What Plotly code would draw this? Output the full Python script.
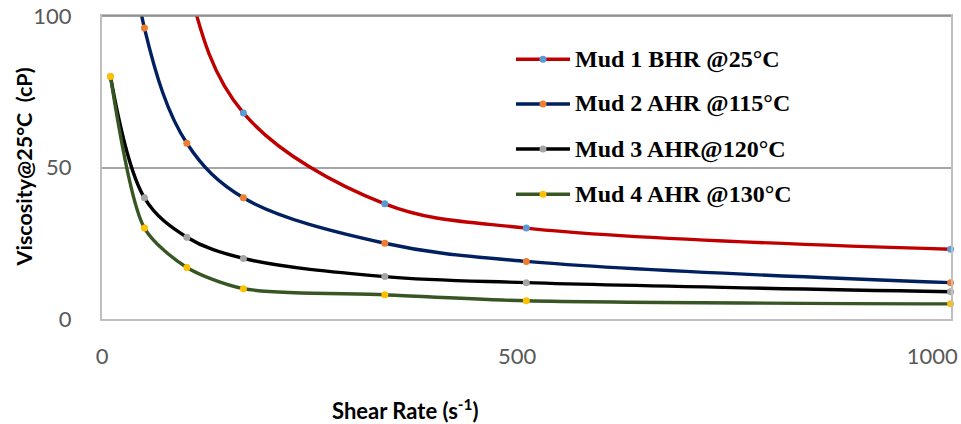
import plotly.graph_objects as go

# ---- data ----
shear_rate = [10.22, 51.1, 102.2, 170.3, 340.6, 511, 1022]
mud1 = [450, 240, 112, 68, 38, 30, 23]
mud2 = [190, 96, 58, 40, 25, 19, 12]
mud3 = [80, 40, 27, 20, 14, 12, 9]
mud4 = [80, 30, 17, 10, 8, 6, 5]
series = [mud1, mud2, mud3, mud4]
names = ["Mud 1 BHR @25°C", "Mud 2 AHR @115°C", "Mud 3 AHR@120°C", "Mud 4 AHR @130°C"]
line_colors = ["#C00000", "#002060", "#000000", "#375623"]
marker_colors = ["#5B9BD5", "#ED7D31", "#A5A5A5", "#FFC000"]
smooth = [1.0, 1.0, 1.0, 0.75]
x_ticks = [0, 500, 1000]
y_ticks = [0, 50, 100]

W, H = 961, 424
L, R, T, B = 102, 10, 16, 105
pw, ph = W - L - R, H - T - B

def px_x(p):
    return (p - L) / pw

def px_y(p):
    return (H - B - p) / ph

fig = go.Figure()
for vals, nm, lc, mc, sm in zip(series, names, line_colors, marker_colors, smooth):
    fig.add_trace(go.Scatter(
        x=shear_rate, y=vals, name=nm, mode="lines+markers",
        line=dict(color=lc, width=3.4, shape="spline", smoothing=sm),
        marker=dict(color=mc, size=7, line=dict(width=0)),
        cliponaxis=False, showlegend=False,
    ))

# manual legend
leg_y = [59.3, 104, 149, 194.3]
shapes = []
annotations = []
for yy, nm, lc, mc in zip(leg_y, names, line_colors, marker_colors):
    shapes.append(dict(type="line", xref="paper", yref="paper",
                       x0=px_x(516), x1=px_x(570), y0=px_y(yy), y1=px_y(yy),
                       line=dict(color=lc, width=3.4)))
    shapes.append(dict(type="circle", xref="paper", yref="paper",
                       xsizemode="pixel", ysizemode="pixel",
                       xanchor=px_x(543), yanchor=px_y(yy),
                       x0=-3.5, x1=3.5, y0=-3.5, y1=3.5,
                       fillcolor=mc, line=dict(width=0)))
    annotations.append(dict(text="<b>" + nm + "</b>", xref="paper", yref="paper",
                            x=px_x(573), y=px_y(yy), xanchor="left", yanchor="middle",
                            showarrow=False,
                            font=dict(family="Liberation Serif", size=24, color="#000000")))

annotations.append(dict(text="<b>Viscosity@25°C  (cP)</b>", xref="paper", yref="paper",
                        x=px_x(23), y=0.5, textangle=-90, showarrow=False,
                        xanchor="center", yanchor="middle",
                        font=dict(family="Lato", size=21.5, color="#000000")))
annotations.append(dict(text="<b>Shear Rate (s<sup>-1</sup>)</b>", xref="paper", yref="paper",
                        x=px_x(405), y=px_y(409), showarrow=False,
                        xanchor="center", yanchor="middle",
                        font=dict(family="Lato", size=22, color="#000000")))

fig.update_layout(
    width=W, height=H,
    margin=dict(l=L, r=R, t=T, b=B, autoexpand=False),
    paper_bgcolor="white", plot_bgcolor="white",
    shapes=shapes, annotations=annotations,
    showlegend=False,
    xaxis=dict(range=[0, 1022.5], tickvals=x_ticks, ticktext=[str(v) for v in x_ticks],
               showgrid=False, zeroline=False, automargin=False,
               showline=True, linecolor="#BFBFBF", linewidth=2, mirror=True,
               ticks="", ticklabelstandoff=17,
               tickfont=dict(family="Lato", size=22, color="#595959")),
    yaxis=dict(range=[0, 100], tickvals=y_ticks, ticktext=[str(v) for v in y_ticks],
               showgrid=True, gridcolor="#A6A6A6", gridwidth=1.5, zeroline=False,
               automargin=False,
               showline=True, linecolor="#BFBFBF", linewidth=2, mirror=True,
               ticks="", ticklabelstandoff=24,
               tickfont=dict(family="Lato", size=22, color="#595959")),
)
fig.add_shape(type="line", xref="paper", yref="paper", x0=0, x1=1, y0=1, y1=1,
              line=dict(color="#808080", width=1.5))

fig.write_html("out.html")
